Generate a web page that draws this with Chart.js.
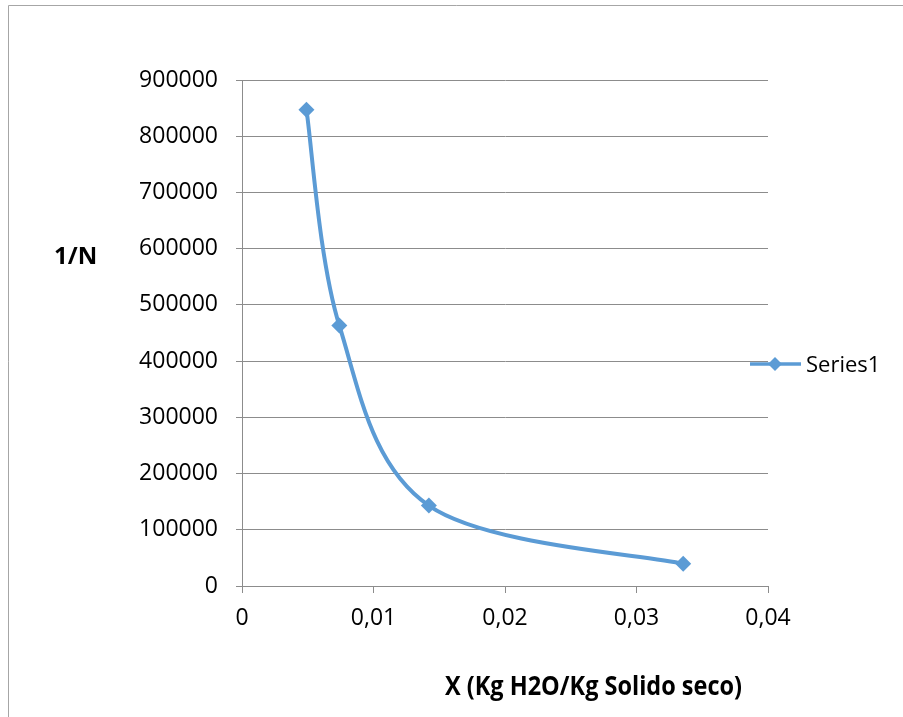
<!DOCTYPE html>
<html>
<head>
<meta charset="utf-8">
<script src="https://cdn.jsdelivr.net/npm/chart.js@4/dist/chart.umd.min.js"></script>
<style>
  html, body { margin: 0; padding: 0; background: #fff; }
  #wrap { width: 903px; height: 717px; }
</style>
</head>
<body>
<div id="wrap"><canvas id="chart" width="903" height="717"></canvas></div>
<script>
// data
const xValues = [0.0049, 0.0074, 0.01421, 0.03355];
const yValues = [847000, 463500, 143000, 39500];
const seriesName = "Series1";
const xTickLabels = ["0", "0,01", "0,02", "0,03", "0,04"];
const yTitle = "1/N";
const xTitle = "X (Kg H2O/Kg Solido seco)";

const blue = "#5B9BD5";
const gridGray = "#8c8c8c";

// spreadsheet-like smoothing: catmull-rom handles (1/6 of neighbour span)
const smoothLine = {
  id: "smoothLine",
  beforeDatasetDraw(chart, args) {
    const meta = args.meta;
    if (!meta.dataset) return;
    meta.dataset.updateControlPoints(chart.chartArea);
    const pts = meta.data;
    const n = pts.length;
    for (let i = 0; i < n; i++) {
      const prev = pts[Math.max(i - 1, 0)];
      const next = pts[Math.min(i + 1, n - 1)];
      const dx = (next.x - prev.x) / 6;
      const dy = (next.y - prev.y) / 6;
      pts[i].cp1x = pts[i].x - dx;
      pts[i].cp1y = pts[i].y - dy;
      pts[i].cp2x = pts[i].x + dx;
      pts[i].cp2y = pts[i].y + dy;
    }
  },
};

// frame, axis titles and legend drawn by hand
const extras = {
  id: "extras",
  beforeDraw(chart) {
    const { ctx } = chart;
    ctx.save();
    ctx.strokeStyle = "#a6a6a6";
    ctx.lineWidth = 1;
    ctx.beginPath();
    ctx.moveTo(8.5, 720);
    ctx.lineTo(8.5, 5.5);
    ctx.lineTo(910, 5.5);
    ctx.stroke();
    ctx.restore();
  },
  afterDraw(chart) {
    const { ctx } = chart;
    ctx.save();
    ctx.fillStyle = "#000";
    ctx.textBaseline = "alphabetic";

    ctx.font = "bold 24px 'Open Sans'";
    ctx.textAlign = "left";
    ctx.fillText(yTitle, 54, 264);

    ctx.font = "bold 27px 'Open Sans'";
    ctx.fillText(xTitle, 445, 695, 297);

    // legend
    const ly = 364;
    ctx.strokeStyle = blue;
    ctx.lineWidth = 3.5;
    ctx.beginPath();
    ctx.moveTo(750, ly);
    ctx.lineTo(801, ly);
    ctx.stroke();
    ctx.fillStyle = blue;
    ctx.beginPath();
    ctx.moveTo(775, ly - 7);
    ctx.lineTo(782, ly);
    ctx.lineTo(775, ly + 7);
    ctx.lineTo(768, ly);
    ctx.closePath();
    ctx.fill();
    ctx.fillStyle = "#000";
    ctx.font = "22px 'Open Sans'";
    ctx.fillText(seriesName, 806, 372);
    ctx.restore();
  },
};

const ctx = document.getElementById("chart").getContext("2d");
new Chart(ctx, {
  type: "scatter",
  data: {
    datasets: [
      {
        label: seriesName,
        data: xValues.map((x, i) => ({ x: x, y: yValues[i] })),
        showLine: true,
        tension: 0.4,
        borderColor: blue,
        backgroundColor: blue,
        borderWidth: 4,
        pointStyle: "rectRot",
        pointRadius: 8,
        pointBorderWidth: 0,
      },
    ],
  },
  options: {
    responsive: false,
    animation: false,
    layout: { padding: { left: 0, right: 135, top: 80, bottom: 0 } },
    plugins: {
      legend: { display: false },
      tooltip: { enabled: false },
    },
    scales: {
      x: {
        type: "linear",
        min: 0,
        max: 0.04,
        afterFit(scale) {
          scale.height = 131;
        },
        afterBuildTicks(scale) {
          scale.ticks = xTickLabels.map((t, i) => ({ value: i * 0.01 }));
        },
        ticks: {
          callback: (v, i) => xTickLabels[i],
          color: "#000",
          font: { family: "'Open Sans'", size: 23 },
          padding: 12,
          maxRotation: 0,
        },
        grid: {
          drawOnChartArea: false,
          drawTicks: true,
          tickLength: 7,
          color: gridGray,
        },
        border: { display: true, color: gridGray, width: 1 },
      },
      y: {
        min: 0,
        max: 900000,
        afterFit(scale) {
          scale.width = 242;
        },
        ticks: {
          stepSize: 100000,
          callback: (v) => String(v),
          color: "#000",
          font: { family: "'Open Sans'", size: 23 },
          padding: 18,
        },
        grid: {
          color: gridGray,
          tickLength: 6,
        },
        border: { display: true, color: gridGray, width: 1 },
      },
    },
  },
  plugins: [smoothLine, extras],
});
</script>
</body>
</html>
